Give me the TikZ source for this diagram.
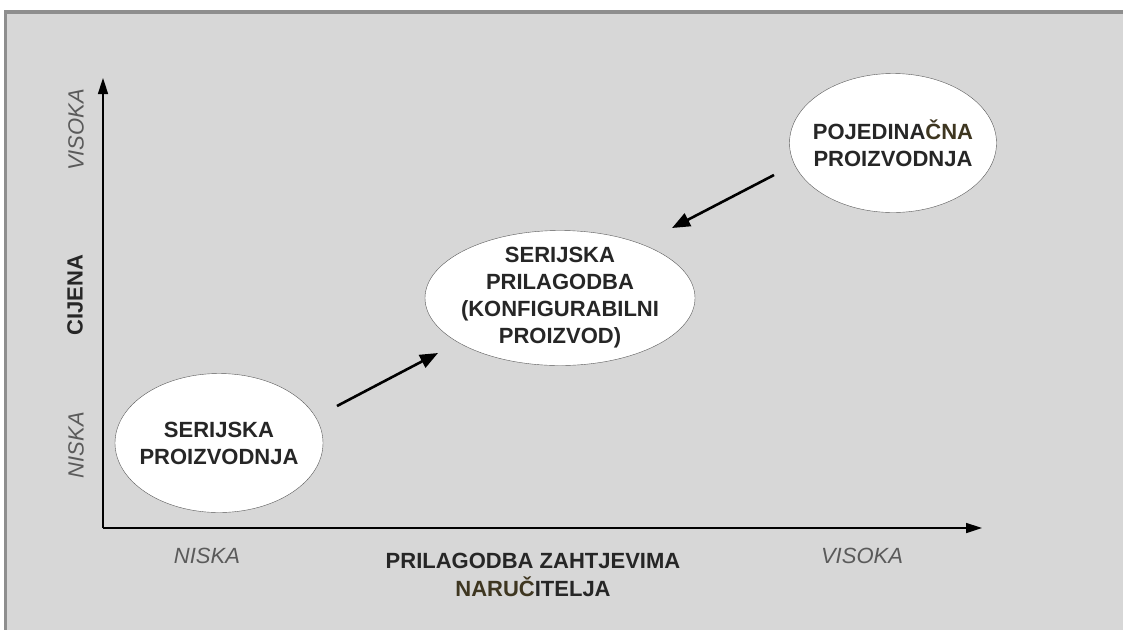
\documentclass[tikz,border=0pt]{standalone}
\usepackage{fontspec}
\setmainfont{Liberation Sans}
\usetikzlibrary{arrows.meta}
\usetikzlibrary{shapes.geometric}
\usetikzlibrary{positioning}

\definecolor{bggray}{HTML}{D7D7D7}
\definecolor{framegray}{HTML}{8E8E8E}
\definecolor{labelgray}{HTML}{5A5A5A}
\definecolor{olive}{HTML}{3E3620}

\begin{document}
\begin{tikzpicture}[x=1pt, y=-1pt]
	\useasboundingbox (0,0) rectangle (1123,630);
	\fill[bggray] (4,10) rectangle (1123,630);
	\fill[framegray] (4,10) rectangle (1123,14);
	\fill[framegray] (4,10) rectangle (7,630);

	% ellipses
	\begin{scope}[every node/.style={ellipse, draw=black!65, fill=white, thin,
	              inner sep=-12pt, align=center,
	              font=\bfseries\fontsize{22}{27}\selectfont, text=black!85}]
		\node[minimum width=208pt, minimum height=139pt] (serijska) at (219,443)
			{SERIJSKA\\PROIZVODNJA};
		\node[minimum width=270pt, minimum height=135pt] (prilagodba) at (560,298)
			{SERIJSKA\\PRILAGODBA\\(KONFIGURABILNI\\PROIZVOD)};
		\node[minimum width=207pt, minimum height=139pt] (pojedinacna) at (893,143)
			{POJEDINA\textcolor{olive}{ČNA}\\PROIZVODNJA};
	\end{scope}

	% axes
	\coordinate (origin) at (103,528);
	\coordinate (ytip) at (103,78);
	\coordinate (xtip) at (982,528);
	\draw[line width=1.6pt, -{Triangle[length=16pt, width=10pt]}] (origin) -- (ytip);
	\draw[line width=1.6pt, -{Triangle[length=16pt, width=10pt]}] (origin) -- (xtip);

	% axis labels
	\begin{scope}[every node/.style={font=\itshape\fontsize{22}{25}\selectfont, text=labelgray}]
		\node[rotate=90] (yhigh) at (76,130) {VISOKA};
		\node[rotate=90] (ylow) at (76,445) {NISKA};
		\node (xlow) at (207,556) {NISKA};
		\node (xhigh) at (862,556) {VISOKA};
	\end{scope}
	\node[rotate=90, font=\bfseries\fontsize{22}{25}\selectfont, text=black!85] (cijena) at (75,295) {CIJENA};
	\node[align=center, font=\bfseries\fontsize{22}{28}\selectfont, text=black!85] (xtitle) at (533,575)
		{PRILAGODBA ZAHTJEVIMA\\\textcolor{olive}{NARUČ}ITELJA};

	% arrows between the kinds of production
	\coordinate (a1) at (337,406);
	\coordinate (a2) at (438,353);
	\coordinate (b1) at (774,175);
	\coordinate (b2) at (672,228);
	\begin{scope}[>={Triangle[length=18pt, width=14pt]}, line width=2.6pt]
		\draw[->] (a1) -- (a2);
		\draw[->] (b1) -- (b2);
	\end{scope}
\end{tikzpicture}
\end{document}
